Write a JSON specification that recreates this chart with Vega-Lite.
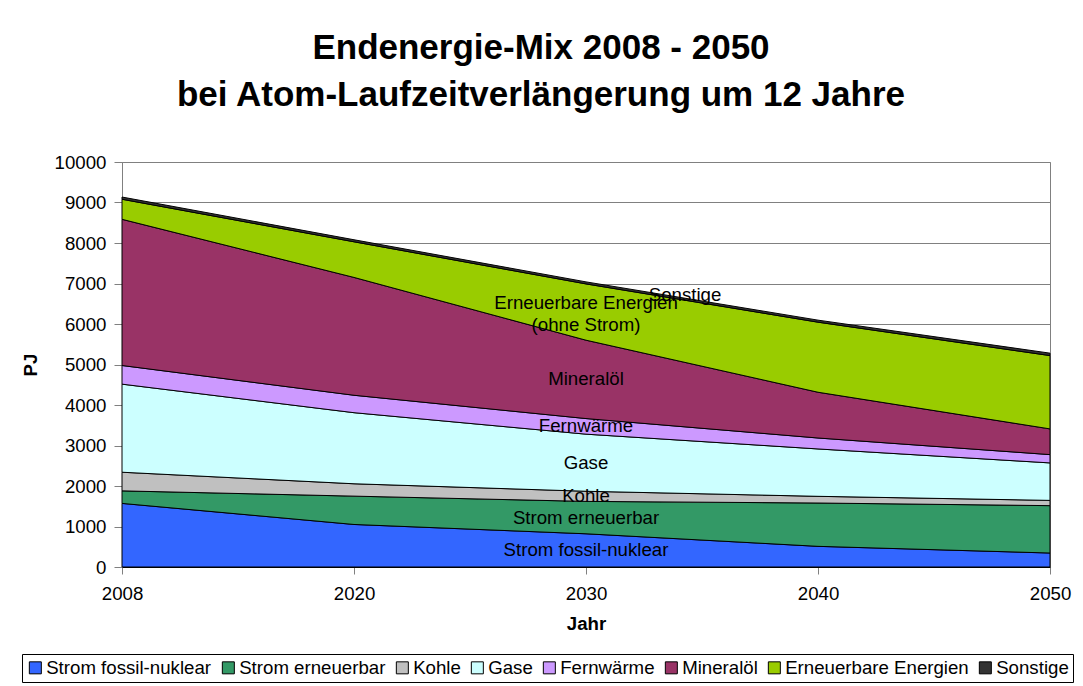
{
  "$schema": "https://vega.github.io/schema/vega-lite/v6.json",
  "width": 928,
  "height": 405,
  "autosize": {"type": "none"},
  "padding": {"left": 122, "top": 162, "right": 33, "bottom": 119},
  "background": "white",
  "title": {
    "text": ["Endenergie-Mix 2008 - 2050", "bei Atom-Laufzeitverlängerung um 12 Jahre"],
    "font": "Liberation Sans",
    "fontSize": 35,
    "fontWeight": "bold",
    "color": "#000000",
    "anchor": "middle",
    "frame": "group",
    "dx": -45,
    "offset": 40,
    "lineHeight": 47
  },
  "data": {
    "values": [
      {"year": "2008", "series": "Strom fossil-nuklear", "value": 1570},
      {"year": "2020", "series": "Strom fossil-nuklear", "value": 1050},
      {"year": "2030", "series": "Strom fossil-nuklear", "value": 820},
      {"year": "2040", "series": "Strom fossil-nuklear", "value": 510},
      {"year": "2050", "series": "Strom fossil-nuklear", "value": 345},
      {"year": "2008", "series": "Strom erneuerbar", "value": 310},
      {"year": "2020", "series": "Strom erneuerbar", "value": 700},
      {"year": "2030", "series": "Strom erneuerbar", "value": 800},
      {"year": "2040", "series": "Strom erneuerbar", "value": 1070},
      {"year": "2050", "series": "Strom erneuerbar", "value": 1170},
      {"year": "2008", "series": "Kohle", "value": 460},
      {"year": "2020", "series": "Kohle", "value": 305},
      {"year": "2030", "series": "Kohle", "value": 250},
      {"year": "2040", "series": "Kohle", "value": 165},
      {"year": "2050", "series": "Kohle", "value": 130},
      {"year": "2008", "series": "Gase", "value": 2175},
      {"year": "2020", "series": "Gase", "value": 1755},
      {"year": "2030", "series": "Gase", "value": 1410},
      {"year": "2040", "series": "Gase", "value": 1170},
      {"year": "2050", "series": "Gase", "value": 925},
      {"year": "2008", "series": "Fernwärme", "value": 460},
      {"year": "2020", "series": "Fernwärme", "value": 430},
      {"year": "2030", "series": "Fernwärme", "value": 385},
      {"year": "2040", "series": "Fernwärme", "value": 270},
      {"year": "2050", "series": "Fernwärme", "value": 205},
      {"year": "2008", "series": "Mineralöl", "value": 3610},
      {"year": "2020", "series": "Mineralöl", "value": 2910},
      {"year": "2030", "series": "Mineralöl", "value": 1935},
      {"year": "2040", "series": "Mineralöl", "value": 1130},
      {"year": "2050", "series": "Mineralöl", "value": 635},
      {"year": "2008", "series": "Erneuerbare Energien", "value": 495},
      {"year": "2020", "series": "Erneuerbare Energien", "value": 880},
      {"year": "2030", "series": "Erneuerbare Energien", "value": 1390},
      {"year": "2040", "series": "Erneuerbare Energien", "value": 1730},
      {"year": "2050", "series": "Erneuerbare Energien", "value": 1810},
      {"year": "2008", "series": "Sonstige", "value": 55},
      {"year": "2020", "series": "Sonstige", "value": 50},
      {"year": "2030", "series": "Sonstige", "value": 50},
      {"year": "2040", "series": "Sonstige", "value": 50},
      {"year": "2050", "series": "Sonstige", "value": 60}
    ]
  },
  "transform": [
    {"calculate": "indexof(['Strom fossil-nuklear','Strom erneuerbar','Kohle','Gase','Fernwärme','Mineralöl','Erneuerbare Energien','Sonstige'], datum.series)", "as": "ord"}
  ],
  "layer": [
    {
      "mark": {"type": "area", "stroke": "#000000", "strokeWidth": 1, "opacity": 1, "fillOpacity": 1},
      "encoding": {
        "x": {
          "field": "year", "type": "ordinal",
          "scale": {"type": "point", "padding": 0},
          "axis": {
            "title": "Jahr", "labelAngle": 0,
            "labelFont": "Liberation Sans", "labelFontSize": 18.67, "labelColor": "#000000",
            "titleFont": "Liberation Sans", "titleFontSize": 18.67, "titleFontWeight": "bold", "titleColor": "#000000",
            "tickSize": 7, "tickColor": "#808080", "domainColor": "#000000",
            "labelPadding": 10, "titlePadding": 12, "grid": false
          }
        },
        "y": {
          "field": "value", "type": "quantitative", "stack": "zero",
          "scale": {"domain": [0, 10000], "nice": false},
          "axis": {
            "title": "PJ", "values": [0,1000,2000,3000,4000,5000,6000,7000,8000,9000,10000],
            "format": "d",
            "labelFont": "Liberation Sans", "labelFontSize": 18.67, "labelColor": "#000000",
            "titleFont": "Liberation Sans", "titleFontSize": 18.67, "titleFontWeight": "bold", "titleColor": "#000000",
            "tickSize": 8, "tickColor": "#808080", "domainColor": "#808080",
            "labelPadding": 8, "titlePadding": 14,
            "grid": true, "gridColor": "#808080", "gridWidth": 1
          }
        },
        "color": {
          "field": "series", "type": "nominal",
          "scale": {
            "domain": ["Strom fossil-nuklear","Strom erneuerbar","Kohle","Gase","Fernwärme","Mineralöl","Erneuerbare Energien","Sonstige"],
            "range": ["#3366FF","#339966","#C0C0C0","#CCFFFF","#CC99FF","#993366","#99CC00","#333333"]
          },
          "legend": {
            "title": null, "orient": "none", "legendX": -100, "legendY": 492,
            "direction": "horizontal", "columns": 8, "columnPadding": 7,
            "padding": 4, "strokeColor": "#000000", "fillColor": "#FFFFFF",
            "symbolType": "square", "symbolSize": 144, "symbolStrokeColor": "#000000", "symbolStrokeWidth": 1,
            "symbolOpacity": 1,
            "labelFont": "Liberation Sans", "labelFontSize": 18.67, "labelColor": "#000000",
            "labelLimit": 400, "labelOffset": 1.5
          }
        },
        "order": {"field": "ord", "type": "quantitative"}
      }
    },
    {
      "transform": [
        {"stack": "value", "groupby": ["year"], "sort": [{"field": "ord", "order": "ascending"}], "as": ["v0", "v1"]},
        {"calculate": "(datum.v0 + datum.v1) / 2", "as": "mid"},
        {"filter": "datum.year == '2030' && datum.series != 'Sonstige' && datum.series != 'Erneuerbare Energien'"}
      ],
      "mark": {"type": "text", "font": "Liberation Sans", "fontSize": 18.67, "color": "#000000", "align": "center", "baseline": "middle"},
      "encoding": {
        "x": {"field": "year", "type": "ordinal"},
        "y": {"field": "mid", "type": "quantitative"},
        "text": {"field": "series"}
      }
    },
    {
      "transform": [
        {"stack": "value", "groupby": ["year"], "sort": [{"field": "ord", "order": "ascending"}], "as": ["v0", "v1"]},
        {"calculate": "(datum.v0 + datum.v1) / 2", "as": "mid"},
        {"filter": "datum.year == '2030' && datum.series == 'Erneuerbare Energien'"},
        {"calculate": "'Erneuerbare Energien\\n(ohne Strom)'", "as": "lbl"}
      ],
      "mark": {"type": "text", "font": "Liberation Sans", "fontSize": 18.67, "color": "#000000", "align": "center", "baseline": "middle", "lineBreak": "\n", "lineHeight": 22, "dy": -9},
      "encoding": {
        "x": {"field": "year", "type": "ordinal"},
        "y": {"field": "mid", "type": "quantitative"},
        "text": {"field": "lbl"}
      }
    },
    {
      "transform": [
        {"stack": "value", "groupby": ["year"], "sort": [{"field": "ord", "order": "ascending"}], "as": ["v0", "v1"]},
        {"calculate": "(datum.v0 + datum.v1) / 2", "as": "mid"},
        {"filter": "datum.year == '2030' && datum.series == 'Sonstige'"}
      ],
      "mark": {"type": "text", "font": "Liberation Sans", "fontSize": 18.67, "color": "#000000", "align": "center", "baseline": "middle", "dx": 99, "dy": 12},
      "encoding": {
        "x": {"field": "year", "type": "ordinal"},
        "y": {"field": "mid", "type": "quantitative"},
        "text": {"field": "series"}
      }
    }
  ],
  "config": {
    "view": {"stroke": "#808080", "strokeWidth": 1}
  }
}
